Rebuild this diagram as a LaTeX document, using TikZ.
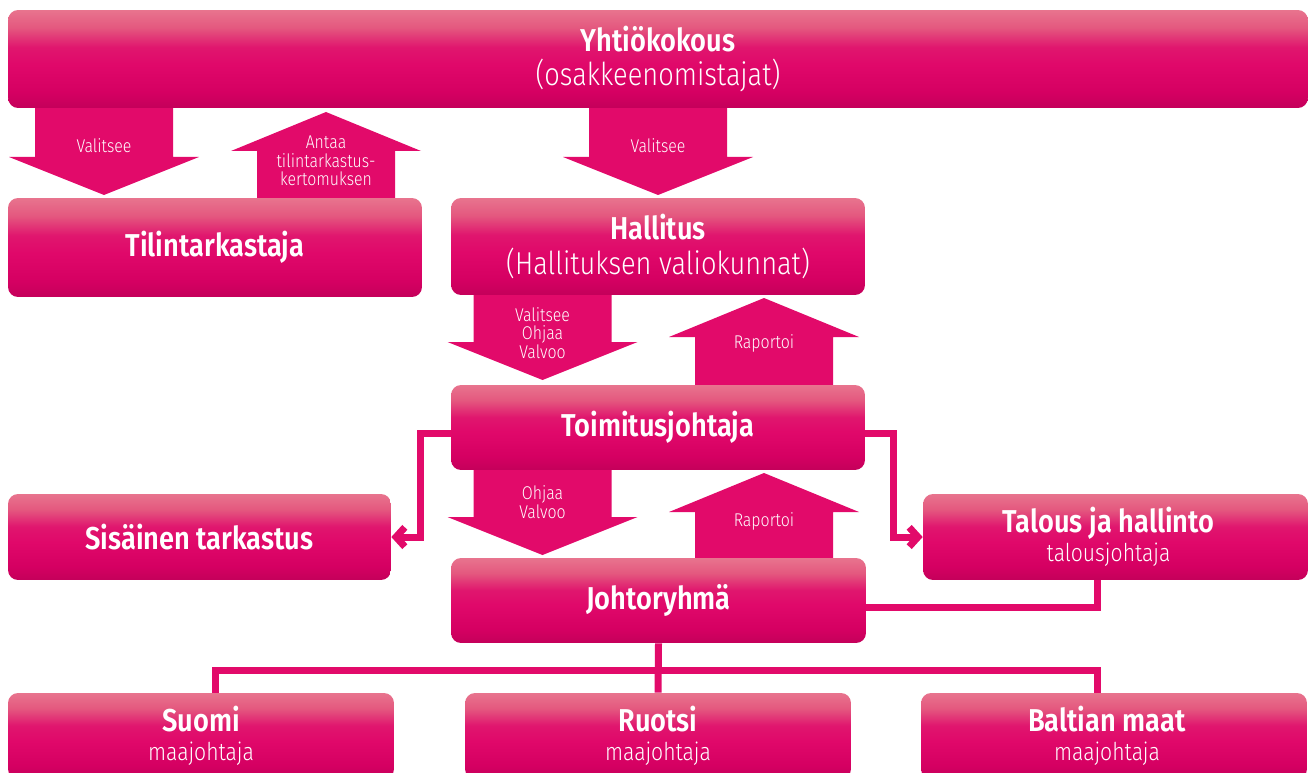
\documentclass[tikz,border=0pt]{standalone}
\usepackage{fontspec}
\setmainfont{Fira Sans Light}[BoldFont=Fira Sans SemiBold, FakeStretch=0.86]
\usetikzlibrary{arrows.meta,calc}
\definecolor{tpink}{HTML}{E20A6A}
\definecolor{cbot}{HTML}{C4005A}
\definecolor{cdark}{HTML}{D50062}
\definecolor{cmid}{HTML}{E0086A}
\definecolor{cmidb}{HTML}{E0166E}
\definecolor{clight}{HTML}{E4587F}
\definecolor{ctop}{HTML}{E8748E}
\pgfdeclareverticalshading{boxshade}{100bp}{color(0bp)=(cbot); color(25bp)=(cbot); color(33bp)=(cdark); color(47bp)=(cmid); color(56bp)=(cmidb); color(66bp)=(clight); color(75bp)=(ctop); color(100bp)=(ctop)}
\newcommand\blockdown[3]{\fill[tpink] (#1-69,#2) -- (#1+69,#2) -- (#1+69,#3-38) -- (#1+95,#3-38) -- (#1,#3) -- (#1-95,#3-38) -- (#1-69,#3-38) -- cycle;}
\newcommand\blockup[3]{\fill[tpink] (#1-69,#2) -- (#1+69,#2) -- (#1+69,#3+39) -- (#1+95,#3+39) -- (#1,#3) -- (#1-95,#3+39) -- (#1-69,#3+39) -- cycle;}
\begin{document}
\begin{tikzpicture}[x=0.02cm,y=-0.02cm,
  box/.style={rounded corners=0.2cm, shade, shading=boxshade, inner sep=0, align=center, text=white},
  two/.style={font=\fontsize{18}{19.5}\selectfont},
  one/.style={font=\bfseries\fontsize{18}{20}\selectfont},
  sub/.style={font=\fontsize{18}{16.5}\selectfont},
  lbl/.style={text=white, font=\fontsize{10.5}{10.5}\selectfont, align=center, inner sep=0},
  conn/.style={draw=tpink, line width=0.14cm, line join=miter},
  tip/.style={-{Straight Barb[length=5pt,width=11pt]}}]
\useasboundingbox (0,0) rectangle (1310,773);
% block arrows
\blockdown{104}{105}{195}
\blockup{326}{200}{112}
\blockdown{658}{105}{195}
\blockdown{542.5}{292}{380}
\blockup{764}{388}{298}
\blockdown{542.5}{467}{555}
\blockup{764}{561}{473}
\node[lbl] (l1) at (104,146) {Valitsee};
\node[lbl] (l2) at (326,161) {Antaa\\tilintarkastus-\\kertomuksen};
\node[lbl] (l3) at (658,146) {Valitsee};
\node[lbl] (l4) at (542.5,333) {Valitsee\\Ohjaa\\Valvoo};
\node[lbl] (l5) at (764,343) {Raportoi};
\node[lbl] (l6) at (542.5,502) {Ohjaa\\Valvoo};
\node[lbl] (l7) at (764,521) {Raportoi};
% boxes
\node[box,two,minimum width=26cm,minimum height=1.96cm] (yk) at (658,59) {\textbf{Yhtiökokous}\\(osakkeenomistajat)};
\node[box,one,minimum width=8.28cm,minimum height=1.98cm] (tt) at (215,247.5) {Tilintarkastaja};
\node[box,two,minimum width=8.28cm,minimum height=1.94cm] (hal) at (658,246.5) {\textbf{Hallitus}\\(Hallituksen valiokunnat)};
\node[box,one,minimum width=8.28cm,minimum height=1.70cm] (tj) at (658,427.5) {Toimitusjohtaja};
\node[box,one,minimum width=7.66cm,minimum height=1.72cm] (sis) at (199.5,537) {Sisäinen tarkastus};
\node[box,sub,minimum width=7.70cm,minimum height=1.72cm] (tal) at (1115.5,537) {\textbf{Talous ja hallinto}\kern0.28cm\\{\fontsize{14}{16.5}\selectfont talousjohtaja}\kern0.28cm};
\node[box,one,minimum width=8.30cm,minimum height=1.70cm] (jr) at (658.5,600.5) {Johtoryhmä};
\node[box,sub,minimum width=7.72cm,minimum height=1.72cm] (fi) at (201,736) {\textbf{Suomi}\\{\fontsize{14}{16.5}\selectfont maajohtaja}};
\node[box,sub,minimum width=7.72cm,minimum height=1.72cm] (se) at (658,736) {\textbf{Ruotsi}\\{\fontsize{14}{16.5}\selectfont maajohtaja}};
\node[box,sub,minimum width=7.72cm,minimum height=1.72cm] (bal) at (1114,736) {\textbf{Baltian maat}\kern0.28cm\\{\fontsize{14}{16.5}\selectfont maajohtaja}\kern0.28cm};
% connectors
\draw[conn,tip] ([yshift=-0.11cm]tj.west) -- ++(-30,0) |- (sis.east);
\draw[conn,tip] ([yshift=-0.11cm]tj.east) -- ++(28,0) |- (tal.west);
\draw[conn] ([yshift=-0.13cm]jr.east) -| ([xshift=-0.37cm]tal.south);
\coordinate (bus) at (658,670);
\draw[conn] (jr.south) -- (se.north);
\draw[conn] ([xshift=0.28cm]fi.north) |- (bus) -| ([xshift=-0.34cm]bal.north);
\end{tikzpicture}
\end{document}
